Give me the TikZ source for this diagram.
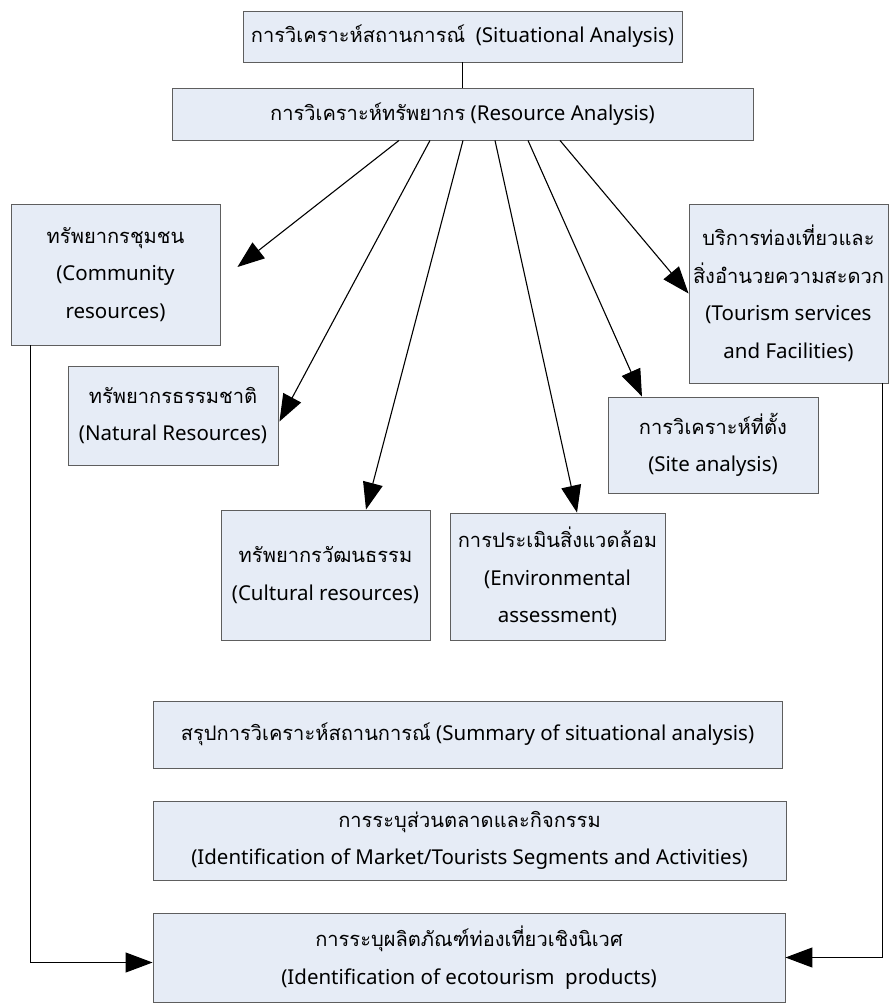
\documentclass[tikz,border=0pt]{standalone}
\usepackage{fontspec}
\setmainfont{Noto Sans}
\newfontfamily\thaifont[Script=Thai,Scale=0.98]{Loma}
\newcommand{\tht}[1]{{\thaifont #1}}
\usetikzlibrary{arrows.meta,shadows}
\definecolor{boxfill}{HTML}{E6ECF6}
\definecolor{boxline}{HTML}{5E5E5E}
\tikzset{
  blk/.style={rectangle, draw=boxline, fill=boxfill, line width=0.9pt,
    align=center, inner sep=0pt,
    drop shadow={shadow xshift=1.2pt, shadow yshift=-1.2pt, fill=black!75, opacity=1},
    font=\fontsize{20.5}{37.5}\selectfont},
  arr/.style={-{Triangle[length=27pt,width=20pt]}, line width=1.1pt},
}
\begin{document}
\begin{tikzpicture}[x=1pt,y=-1pt]
      \useasboundingbox (0,0) rectangle (890,1007);
      % boxes
      \node[blk, minimum width=439pt, minimum height=51pt] (sit) at (462.5,36.5)
        {\tht{การวิเคราะห์สถานการณ์}\ \ (Situational Analysis)};
      \node[blk, minimum width=581pt, minimum height=52pt] (res) at (462.5,114)
        {\tht{การวิเคราะห์ทรัพยากร} (Resource Analysis)};
      \node[blk, minimum width=209pt, minimum height=141pt] (comm) at (115.5,274.5)
        {\tht{ทรัพยากรชุมชน}\\(Community\\resources)};
      \node[blk, minimum width=210pt, minimum height=99pt] (nat) at (173,415.5)
        {\tht{ทรัพยากรธรรมชาติ}\\(Natural Resources)};
      \node[blk, minimum width=209pt, minimum height=130pt] (cul) at (325.5,575)
        {\tht{ทรัพยากรวัฒนธรรม}\\(Cultural resources)};
      \node[blk, minimum width=215pt, minimum height=127pt] (env) at (557.5,576.5)
        {\tht{การประเมินสิ่งแวดล้อม}\\(Environmental\\assessment)};
      \node[blk, minimum width=210pt, minimum height=96pt] (site) at (713,445)
        {\tht{การวิเคราะห์ที่ตั้ง}\\(Site analysis)};
      \node[blk, minimum width=199pt, minimum height=179pt] (tour) at (788.5,293.5)
        {\tht{บริการท่องเที่ยวและ}\\\tht{สิ่งอำนวยความสะดวก}\\(Tourism services\\and Facilities)};
      \node[blk, minimum width=629pt, minimum height=67pt] (sum) at (467.5,734.5)
        {\tht{สรุปการวิเคราะห์สถานการณ์} (Summary of situational analysis)};
      \node[blk, minimum width=633pt, minimum height=79pt] (mkt) at (469.5,840.5)
        {\tht{การระบุส่วนตลาดและกิจกรรม}\\(Identification of Market/Tourists Segments and Activities)};
      \node[blk, minimum width=632pt, minimum height=89pt] (prod) at (469,957.5)
        {\tht{การระบุผลิตภัณฑ์ท่องเที่ยวเชิงนิเวศ}\\(Identification of ecotourism\ \ products)};
      % connectors
      \draw[line width=1.1pt] (sit) -- (res);
      \draw[arr] ([xshift=-63.5pt]res.south) -- ([xshift=17pt,yshift=7.5pt]comm.east);
      \draw[arr] ([xshift=-32.5pt]res.south) -- ([xshift=1pt,yshift=-6pt]nat.east);
      \draw[arr] ([xshift=0.5pt]res.south) -- ([xshift=40.5pt]cul.north);
      \draw[arr] ([xshift=32.5pt]res.south) -- ([xshift=19.5pt]env.north);
      \draw[arr] ([xshift=65.5pt]res.south) -- ([xshift=-71pt]site.north);
      \draw[arr] ([xshift=97.5pt]res.south) -- (tour.west);
      \draw[arr] ([xshift=20pt]comm.south west) |- ([yshift=-5pt]prod.west);
      \draw[arr] ([xshift=-6pt]tour.south east) |- (prod.east);
    \end{tikzpicture}
\end{document}
